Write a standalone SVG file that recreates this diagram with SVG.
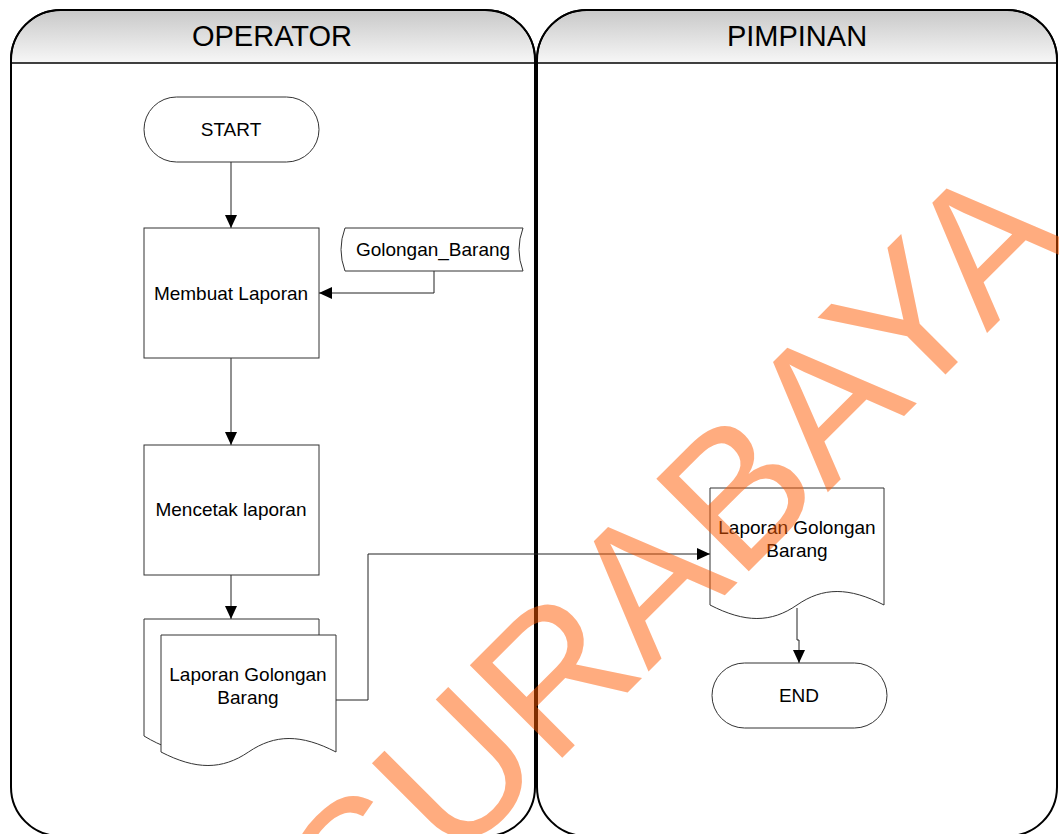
<svg xmlns="http://www.w3.org/2000/svg" width="1059" height="834" viewBox="0 0 1059 834">
<defs>
<linearGradient id="hdr" x1="0" y1="0" x2="0" y2="1">
<stop offset="0" stop-color="#c9c9c9"/>
<stop offset="1" stop-color="#f7f7f7"/>
</linearGradient>
<marker id="arr" markerUnits="userSpaceOnUse" markerWidth="13" markerHeight="12" refX="13" refY="6" orient="auto">
<path d="M0,0 L13,6 L0,12 Z" fill="#000"/>
</marker>
<style>
.lane{fill:#fff;stroke:#000;stroke-width:2}
.hdr{fill:url(#hdr);stroke:none}
.hline{stroke:#000;stroke-width:1.5;fill:none}
.title{font-family:"Liberation Sans",Arial,sans-serif;font-size:29px;fill:#000;text-anchor:middle}
.shape{fill:#fff;stroke:#333;stroke-width:1}
.lbl{font-family:"Liberation Sans",Arial,sans-serif;font-size:19px;fill:#000;text-anchor:middle}
.conn{fill:none;stroke:#222;stroke-width:1}
.wm{font-family:"Liberation Sans",Arial,sans-serif;font-size:190px;fill:#ff5a00;fill-opacity:0.5}
</style>
</defs>

<g id="lane-operator">
<path class="lane" d="M11,60 A50,50 0 0 1 61,10 H485 A50,50 0 0 1 535,60 V787 A49,49 0 0 1 486,836 H60 A49,49 0 0 1 11,787 Z"/>
<path class="hdr" d="M12,60 A49,49 0 0 1 61,11 H485 A49,49 0 0 1 534,60 V63 H12 Z"/>
<path class="lane" style="fill:none" d="M11,60 A50,50 0 0 1 61,10 H485 A50,50 0 0 1 535,60"/>
<line class="hline" x1="11" y1="63" x2="535" y2="63"/>
<text class="title" x="272" y="46">OPERATOR</text>
</g>

<g id="lane-pimpinan">
<path class="lane" d="M537,60 A50,50 0 0 1 587,10 H1007 A50,50 0 0 1 1057,60 V787 A49,49 0 0 1 1008,836 H586 A49,49 0 0 1 537,787 Z"/>
<path class="hdr" d="M538,60 A49,49 0 0 1 587,11 H1007 A49,49 0 0 1 1056,60 V63 H538 Z"/>
<path class="lane" style="fill:none" d="M537,60 A50,50 0 0 1 587,10 H1007 A50,50 0 0 1 1057,60"/>
<line class="hline" x1="537" y1="63" x2="1057" y2="63"/>
<text class="title" x="797" y="46">PIMPINAN</text>
</g>

<g id="connectors">
<path class="conn" d="M231,162 V228" marker-end="url(#arr)"/>
<path class="conn" d="M434,271 V293 H319" marker-end="url(#arr)"/>
<path class="conn" d="M231,358 V445" marker-end="url(#arr)"/>
<path class="conn" d="M231,575 V619" marker-end="url(#arr)"/>
<path class="conn" d="M336,700 H368 V554 H710" marker-end="url(#arr)"/>
<path class="conn" d="M797,608 V640 H799 V663" marker-end="url(#arr)"/>
</g>

<g id="start">
<rect class="shape" x="144" y="97" width="175" height="65" rx="32.5" ry="32.5"/>
<text class="lbl" x="231" y="136">START</text>
</g>

<g id="membuat-laporan">
<rect class="shape" x="144" y="228" width="175" height="130"/>
<text class="lbl" x="231" y="300">Membuat Laporan</text>
</g>

<g id="golongan-barang">
<path class="shape" d="M345,228 H523 Q515,249.5 523,271 H345 Q337,249.5 345,228 Z"/>
<text class="lbl" x="433" y="256">Golongan_Barang</text>
</g>

<g id="mencetak-laporan">
<rect class="shape" x="144" y="445" width="175" height="130"/>
<text class="lbl" x="231" y="516">Mencetak laporan</text>
</g>

<g id="laporan-multi">
<path class="shape" d="M144,619 H319 V736 C284,715 258,715 231.5,736 C205,757 179,757 144,736 Z"/>
<path class="shape" d="M161,635 H336 V752 C301,734 275,734 248.5,752 C222,770 196,770 161,752 Z"/>
<text class="lbl" x="248" y="681">Laporan Golongan</text>
<text class="lbl" x="248" y="704">Barang</text>
</g>

<g id="laporan-pimpinan">
<path class="shape" d="M710,488 H884 V605 C849,587 823,587 797,605 C771,623 745,623 710,605 Z"/>
<text class="lbl" x="797" y="534">Laporan Golongan</text>
<text class="lbl" x="797" y="557">Barang</text>
</g>

<g id="end">
<rect class="shape" x="712" y="663" width="175" height="65" rx="32.5" ry="32.5"/>
<text class="lbl" x="799" y="702">END</text>
</g>

<g id="watermark">
<text class="wm" transform="translate(364.5,955.5) rotate(-45)" x="0" y="0">SURABAYA</text>
</g>
</svg>
